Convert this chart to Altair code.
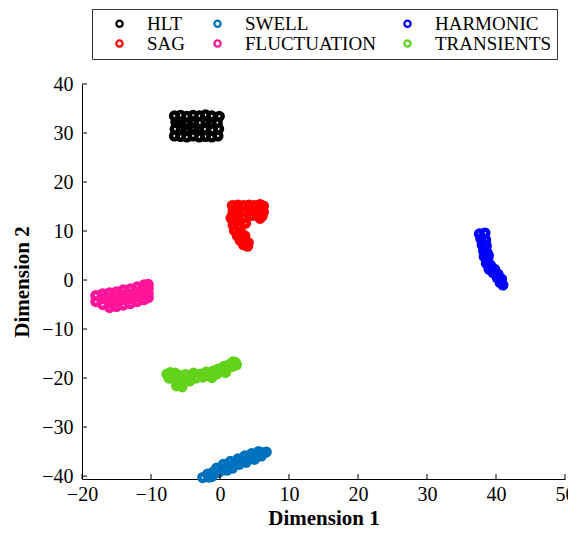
import altair as alt
import pandas as pd

# ---- data ----
hlt_pts = [(-6.6,29.4),(-6.5,30.8),(-6.4,32.2),(-6.6,33.5),(-5.7,29.3),(-5.6,30.7),(-5.8,32.1),(-5.7,33.6),
           (-4.8,29.2),(-4.9,30.6),(-4.7,32.0),(-4.8,33.4),(-3.9,29.4),(-3.8,30.9),(-4.0,32.2),(-3.9,33.6),
           (-3.0,29.2),(-3.1,30.7),(-2.9,32.1),(-3.0,33.5),(-2.1,29.3),(-2.2,30.8),(-2.0,32.2),(-2.1,33.7),
           (-1.2,29.2),(-1.1,30.6),(-1.3,32.0),(-1.2,33.5),(-0.3,29.4),(-0.2,30.8),(-0.4,32.1),(-0.1,33.4)]
sag_pts = [(1.8,15.2),(2.6,15.3),(3.4,15.2),(4.2,15.3),(5.0,15.2),(5.8,15.4),(6.3,15.1),(1.9,14.2),
           (2.7,14.2),(3.5,14.0),(4.3,14.2),(5.1,14.1),(5.9,14.3),(6.3,13.9),(4.6,13.2),(5.4,13.1),
           (6.1,13.0),(5.8,12.6),(1.8,13.2),(2.6,13.1),(1.9,12.2),(2.7,12.0),(3.4,12.6),(1.9,11.2),
           (2.8,10.9),(2.1,10.1),(3.0,9.8),(2.5,9.1),(3.3,8.8),(2.9,8.1),(3.7,7.8),(3.4,7.2),(4.0,6.9),
           (3.7,11.6),(1.6,12.6),(3.6,9.0),(4.1,7.6)]
swell_pts = [(-2.5,-40.3),(-1.8,-39.6),(-1.6,-40.2),(-1.0,-39.2),(-1.2,-40.1),(-0.5,-38.4),(-0.2,-39.3),
             (0.3,-38.6),(0.5,-37.6),(1.0,-38.8),(1.2,-38.0),(1.5,-37.0),(1.8,-38.4),(2.2,-37.4),
             (2.6,-36.5),(2.8,-37.6),(3.2,-36.9),(3.6,-35.9),(3.8,-37.2),(4.2,-36.4),(4.6,-35.4),
             (5.0,-36.6),(5.2,-35.8),(5.6,-35.0),(6.0,-35.9),(6.2,-35.3),(6.7,-35.1)]
harmonic_pts = [(37.6,9.4),(38.4,9.6),(37.8,8.4),(38.5,8.2),(38.0,7.2),(38.6,7.0),(38.2,6.0),(38.7,5.6),
                (38.3,4.8),(38.8,4.2),(38.6,3.4),(39.2,3.0),(39.0,2.2),(39.8,2.2),(39.6,1.5),(40.3,1.2),
                (40.2,0.4),(40.8,0.2),(40.6,-0.5),(41.0,-1.0),(38.9,5.0)]
fluct_pts = [(-18.0,-3.2),(-18.0,-4.4),(-17.0,-2.8),(-17.0,-3.8),(-17.0,-5.0),(-16.0,-2.6),(-16.0,-3.6),
             (-16.0,-4.6),(-16.0,-5.6),(-15.0,-2.4),(-15.0,-3.4),(-15.0,-4.4),(-15.0,-5.4),(-14.0,-2.0),
             (-14.0,-3.0),(-14.0,-4.0),(-14.0,-5.1),(-13.0,-1.8),(-13.0,-2.8),(-13.0,-3.8),(-13.0,-4.8),
             (-12.0,-1.4),(-12.0,-2.4),(-12.0,-3.4),(-12.0,-4.4),(-11.0,-1.0),(-11.0,-2.0),(-11.0,-3.0),
             (-11.0,-4.0),(-10.4,-0.9),(-10.4,-1.8),(-10.4,-2.8),(-10.4,-3.6)]
trans_pts = [(-7.7,-19.2),(-7.2,-18.9),(-7.0,-20.0),(-6.5,-19.0),(-6.5,-20.3),(-6.0,-21.2),(-5.8,-19.5),
             (-5.5,-20.5),(-5.5,-21.8),(-5.0,-19.3),(-4.8,-20.3),(-4.2,-19.6),(-3.8,-19.0),(-3.5,-20.0),
             (-2.8,-19.2),(-2.5,-19.8),(-2.0,-18.8),(-1.5,-19.4),(-1.0,-18.6),(-0.5,-19.2),(-0.3,-18.2),
             (0.3,-18.6),(0.6,-17.6),(1.0,-18.2),(1.4,-17.2),(1.8,-17.6),(2.2,-16.8),(2.4,-17.3),
             (-7.4,-20.0),(-6.3,-21.6),(-4.4,-20.6),(-1.2,-19.9),(0.8,-18.9),(1.9,-16.7)]

# legend fills column by column: (HLT, SAG), (SWELL, FLUCTUATION), (HARMONIC, TRANSIENTS)
classes = ["HLT", "SAG", "SWELL", "FLUCTUATION", "HARMONIC", "TRANSIENTS"]
colors = ["#000000", "#FF0000", "#0072BD", "#FF149A", "#0000FF", "#62D21A"]
point_sets = {"HLT": hlt_pts, "SWELL": swell_pts, "HARMONIC": harmonic_pts,
              "SAG": sag_pts, "FLUCTUATION": fluct_pts, "TRANSIENTS": trans_pts}
x_ticks = [-20, -10, 0, 10, 20, 30, 40, 50]
y_ticks = [-40, -30, -20, -10, 0, 10, 20, 30, 40]

rows = []
for c in classes:
    for (x, y) in point_sets[c]:
        rows.append({"x": x, "y": y, "cls": c})
df = pd.DataFrame(rows)

W, H = 483, 395
FONT = "Liberation Serif"

xscale = alt.Scale(domain=[-20, 50], nice=False, zero=False)
yscale = alt.Scale(domain=[-40.6, 40], nice=False, zero=False)

ax_common = dict(ticks=False, grid=False, domainColor="black", domainWidth=1, labelFlush=False,
                 labelFont=FONT, labelFontSize=20, labelColor="black",
                 titleFont=FONT, titleFontSize=21, titleFontWeight="bold", titleColor="black")

points = alt.Chart(df).mark_point(filled=False, size=45, strokeWidth=4.5, opacity=1, shape="circle").encode(
    x=alt.X("x:Q", scale=xscale,
            axis=alt.Axis(values=x_ticks, title="Dimension 1", labelPadding=5,
                          titleY=45, titleBaseline="alphabetic", **ax_common)),
    y=alt.Y("y:Q", scale=yscale,
            axis=alt.Axis(values=y_ticks, title="Dimension 2", labelPadding=9, titlePadding=9, **ax_common)),
    color=alt.Color("cls:N", scale=alt.Scale(domain=classes, range=colors),
                    legend=alt.Legend(title=None, orient="none", legendX=10, legendY=-75,
                                      columns=3, symbolType="circle", symbolSize=40,
                                      symbolStrokeWidth=2.2, symbolOffset=13, labelOffset=18,
                                      columnPadding=9, rowPadding=0, padding=5,
                                      strokeColor="#333333", labelFont=FONT, labelFontSize=19,
                                      labelColor="black")),
)

xt = pd.DataFrame({"v": x_ticks})
yt = pd.DataFrame({"v": y_ticks})
xtick_rules = alt.Chart(xt).mark_rule(color="black", strokeWidth=1).encode(
    x=alt.X("v:Q", scale=xscale), y=alt.value(H), y2=alt.value(H - 5))
ytick_rules = alt.Chart(yt).mark_rule(color="black", strokeWidth=1).encode(
    y=alt.Y("v:Q", scale=yscale), x=alt.value(0), x2=alt.value(5))

chart = alt.layer(points, xtick_rules, ytick_rules).properties(
    width=W, height=H,
    autosize=alt.AutoSizeParams(type="none"),
    padding={"left": 74, "top": 76, "right": 3, "bottom": 46},
).configure_view(stroke=None)

chart.save("out.html", embed_options={"renderer": "svg", "actions": False})
